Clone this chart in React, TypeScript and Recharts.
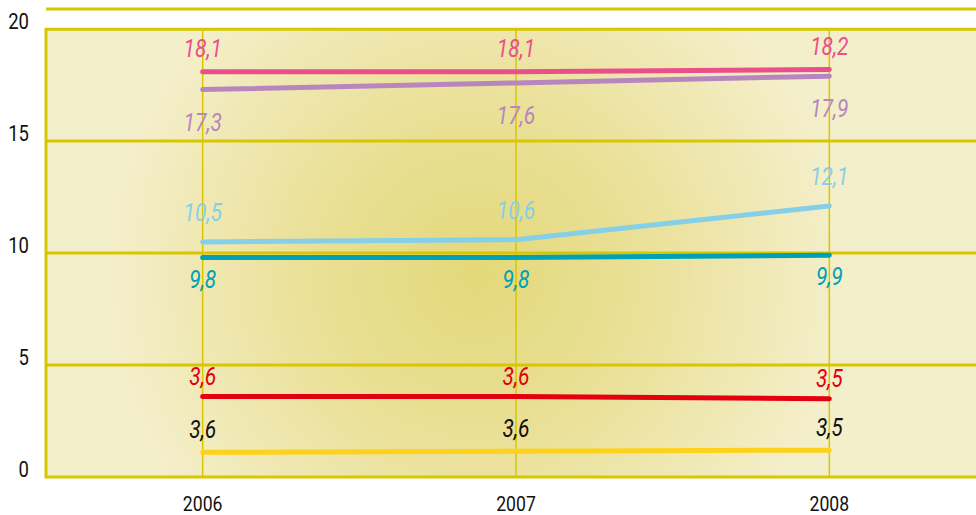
import React from 'react';
import { LineChart, Line, XAxis, YAxis, ReferenceArea, ReferenceLine, LabelList } from 'recharts';

const years = [2006, 2007, 2008];
const pink = [18.1, 18.1, 18.2];
const purple = [17.3, 17.6, 17.9];
const lightBlue = [10.5, 10.6, 12.1];
const teal = [9.8, 9.8, 9.9];
const red = [3.6, 3.6, 3.5];
const yellow = [1.1, 1.15, 1.2];
// the yellow line carries black labels that differ from its position
const yellowLabels = ['3,6', '3,6', '3,5'];
const yTicks = [0, 5, 10, 15, 20];

const data = years.map((year, i) => ({
  year,
  pink: pink[i],
  purple: purple[i],
  lightBlue: lightBlue[i],
  teal: teal[i],
  red: red[i],
  yellow: yellow[i],
  yellowLabel: yellowLabels[i],
}));

const series = [
  { key: 'pink', color: '#e9508b', labelColor: '#e9508b', dy: -23 },
  { key: 'purple', color: '#b886bf', labelColor: '#b886bf', dy: 33 },
  { key: 'lightBlue', color: '#86cfe8', labelColor: '#86cfe8', dy: -29 },
  { key: 'teal', color: '#00a1b5', labelColor: '#00a1b5', dy: 22 },
  { key: 'red', color: '#e3000f', labelColor: '#e3000f', dy: -20 },
  { key: 'yellow', color: '#fdd21b', labelColor: '#111111', dy: -22, labelKey: 'yellowLabel' },
];

const GRID = '#d8c700';
const font = 'Roboto, "Noto Sans", sans-serif';

// condensed look: Roboto squeezed horizontally
const NarrowText = ({ x, y, size, color, italic, anchor, children }: any) => (
  <text
    transform={`translate(${x},${y}) scale(0.84,1)`}
    textAnchor={anchor}
    dominantBaseline="central"
    fill={color}
    fontSize={size}
    fontStyle={italic ? 'italic' : 'normal'}
    fontFamily={font}
  >
    {children}
  </text>
);

const makeLabel = (color: string, dy: number) => (props: any) => {
  const { x, y, value } = props;
  const text = typeof value === 'number' ? value.toFixed(1).replace('.', ',') : value;
  return (
    <NarrowText x={x} y={y + dy} size={25} color={color} italic anchor="middle">
      {text}
    </NarrowText>
  );
};

const YTick = (props: any) => {
  const { x, y, payload } = props;
  return (
    <NarrowText x={x - 9} y={y - 8} size={22} color="#111" anchor="end">
      {payload.value}
    </NarrowText>
  );
};

const XTick = (props: any) => {
  const { x, y, payload } = props;
  return (
    <NarrowText x={x} y={y + 19} size={21} color="#111" anchor="middle">
      {payload.value}
    </NarrowText>
  );
};

export default function App() {
  return (
    <div style={{ position: 'absolute', left: 0, top: 0, width: 976, height: 515, overflow: 'hidden', background: '#fff' }}>
      <LineChart width={1000} height={515} data={data} margin={{ top: 9, right: 14, bottom: 0, left: 0 }}>
        <defs>
          <radialGradient id="plotBg" gradientUnits="userSpaceOnUse" cx={475} cy={275} r={370}>
            <stop offset="0%" stopColor="#e4d87a" />
            <stop offset="45%" stopColor="#eae097" />
            <stop offset="100%" stopColor="#f4efcb" />
          </radialGradient>
        </defs>
        <XAxis
          dataKey="year"
          type="number"
          domain={[2005.5, 2008.5]}
          ticks={years}
          axisLine={false}
          tickLine={false}
          height={38}
          tick={<XTick />}
        />
        <YAxis
          type="number"
          domain={[0, 20.9]}
          ticks={yTicks}
          axisLine={false}
          tickLine={false}
          width={46}
          tick={<YTick />}
        />
        <ReferenceArea x1={2005.5} x2={2008.5} y1={0} y2={20} fill="url(#plotBg)" fillOpacity={1} stroke={GRID} strokeWidth={3} />
        <ReferenceLine y={20.9} stroke={GRID} strokeWidth={3} />
        {[5, 10, 15].map((v) => (
          <ReferenceLine key={`h-${v}`} y={v} stroke={GRID} strokeWidth={3} />
        ))}
        {years.map((yr) => (
          <ReferenceLine key={`v-${yr}`} segment={[{ x: yr, y: 0 }, { x: yr, y: 20 }]} stroke={GRID} strokeWidth={1.5} />
        ))}
        {series.map((s) => (
          <Line
            key={s.key}
            dataKey={s.key}
            stroke={s.color}
            strokeWidth={5}
            strokeLinecap="round"
            strokeLinejoin="round"
            dot={false}
            activeDot={false}
            isAnimationActive={false}
          >
            <LabelList dataKey={s.labelKey || s.key} content={makeLabel(s.labelColor, s.dy)} />
          </Line>
        ))}
      </LineChart>
    </div>
  );
}
